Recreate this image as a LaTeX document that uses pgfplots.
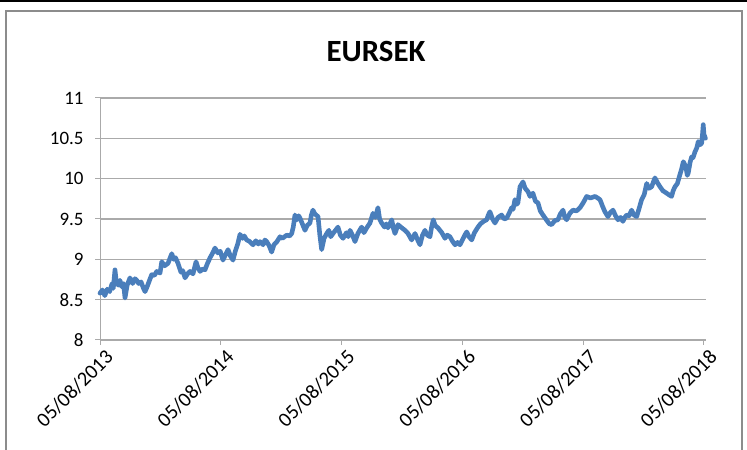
\documentclass[border=0pt]{standalone}
\usepackage{pgfplots}
\pgfplotsset{compat=1.18}
\usepackage{fontspec}
\setmainfont{Carlito}
\definecolor{lineblue}{RGB}{74,126,187}
\definecolor{gridgray}{RGB}{170,170,170}
\definecolor{framegray}{RGB}{140,140,140}
\begin{document}
\begin{tikzpicture}[x=1bp,y=1bp]
\path[use as bounding box] (0,0) rectangle (747,450);
\draw[black,line width=2bp] (0,449) -- (747,449);
\draw[framegray,line width=1.2bp] (6,-10) -- (6,439) -- (742,439) -- (742,-10);
\node[font=\fontsize{31}{36}\selectfont\bfseries] at (376,399) {EURSEK};
\begin{axis}[
  at={(100bp,110bp)}, anchor=south west,
  scale only axis, width=606bp, height=242bp,
  xmin=0, xmax=5.017, ymin=8, ymax=11,
  axis x line=bottom, axis y line=left,
  axis line style={gridgray,line width=1bp,-},
  ytick={8,8.5,...,11},
  yticklabels={8,8.5,9,9.5,10,10.5,11},
  xtick={0,1,2,3,4,5},
  xticklabels={05/08/2013,05/08/2014,05/08/2015,05/08/2016,05/08/2017,05/08/2018},
  tick align=outside, major tick length=5bp,
  tick style={gridgray,line width=1bp},
  ymajorgrids, grid style={gridgray,line width=1.2bp},
  tick label style={font=\fontsize{19}{21}\selectfont, black},
  yticklabel style={anchor=east, xshift=-8bp},
  xticklabel style={font=\fontsize{20.5}{22}\selectfont, rotate=45, anchor=east, xshift=4bp, yshift=-13bp},
  clip=false,
]
\addplot[lineblue, line width=4.6bp, line join=round, line cap=round] coordinates {
(0,8.58) (0.02,8.62) (0.04,8.55) (0.06,8.63) (0.08,8.60) (0.10,8.70) (0.11,8.64) (0.124,8.87) (0.135,8.72) (0.15,8.68) (0.165,8.74) (0.18,8.66) (0.195,8.70) (0.207,8.52)
(0.225,8.68) (0.248,8.77) (0.27,8.70) (0.29,8.76) (0.304,8.74) (0.32,8.70) (0.34,8.72) (0.36,8.64) (0.373,8.60) (0.39,8.66) (0.40,8.70) (0.415,8.76) (0.428,8.81)
(0.45,8.80) (0.47,8.85) (0.497,8.83) (0.511,8.97) (0.535,8.92) (0.563,8.95) (0.594,9.07) (0.61,9.00) (0.625,9.02) (0.646,8.95) (0.67,8.84) (0.685,8.86) (0.704,8.77)
(0.725,8.82) (0.745,8.85) (0.77,8.82) (0.795,8.97) (0.81,8.90) (0.828,8.85) (0.85,8.88) (0.869,8.87) (0.89,8.95) (0.911,9.02) (0.93,9.07) (0.952,9.14)
(0.975,9.08) (0.995,9.10) (1.018,8.99) (1.04,9.06) (1.060,9.12) (1.08,9.04) (1.101,8.99) (1.12,9.10) (1.142,9.20) (1.159,9.31) (1.18,9.26) (1.195,9.29) (1.214,9.24)
(1.24,9.22) (1.267,9.18) (1.29,9.23) (1.31,9.19) (1.325,9.22) (1.35,9.18) (1.365,9.24) (1.380,9.22) (1.40,9.17) (1.421,9.09) (1.44,9.18) (1.465,9.22) (1.490,9.28)
(1.51,9.26) (1.546,9.30) (1.57,9.29) (1.587,9.32) (1.60,9.40) (1.614,9.55) (1.63,9.49) (1.645,9.54) (1.656,9.51) (1.675,9.44) (1.697,9.36) (1.715,9.42) (1.738,9.45)
(1.75,9.55) (1.763,9.61) (1.78,9.56) (1.805,9.53) (1.82,9.30) (1.835,9.12) (1.855,9.26) (1.877,9.32) (1.895,9.36) (1.91,9.28) (1.929,9.32) (1.95,9.36) (1.970,9.40)
(1.99,9.30) (2.012,9.26) (2.04,9.33) (2.055,9.28) (2.070,9.36) (2.09,9.30) (2.111,9.22) (2.135,9.32) (2.15,9.36) (2.166,9.40) (2.185,9.33) (2.208,9.39) (2.235,9.45)
(2.260,9.57) (2.28,9.52) (2.301,9.64) (2.315,9.50) (2.332,9.45) (2.355,9.40) (2.37,9.44) (2.384,9.39) (2.40,9.44) (2.415,9.49) (2.43,9.38) (2.442,9.32) (2.467,9.43)
(2.49,9.40) (2.525,9.36) (2.55,9.32) (2.565,9.28) (2.580,9.24) (2.608,9.32) (2.63,9.24) (2.649,9.18) (2.67,9.30) (2.690,9.36) (2.71,9.30) (2.732,9.28) (2.745,9.40)
(2.759,9.49) (2.775,9.42) (2.798,9.39) (2.83,9.33) (2.856,9.26) (2.875,9.30) (2.897,9.28) (2.92,9.22) (2.939,9.18) (2.96,9.21) (2.980,9.18) (3.00,9.24) (3.02,9.30)
(3.036,9.34) (3.055,9.28) (3.077,9.24) (3.10,9.33) (3.129,9.40) (3.15,9.44) (3.175,9.47) (3.201,9.49) (3.215,9.55) (3.228,9.59) (3.25,9.50) (3.270,9.45) (3.295,9.52)
(3.325,9.55) (3.345,9.50) (3.366,9.51) (3.39,9.58) (3.408,9.64) (3.42,9.62) (3.435,9.74) (3.448,9.68) (3.460,9.70) (3.477,9.90) (3.502,9.96) (3.52,9.88) (3.543,9.84)
(3.56,9.78) (3.584,9.82) (3.605,9.72) (3.626,9.70) (3.645,9.60) (3.667,9.55) (3.70,9.48) (3.72,9.44) (3.739,9.43) (3.765,9.48) (3.791,9.49) (3.81,9.56) (3.833,9.61)
(3.848,9.52) (3.863,9.49) (3.89,9.57) (3.916,9.61) (3.945,9.60) (3.974,9.64) (4.00,9.70) (4.029,9.78) (4.06,9.76) (4.098,9.78) (4.12,9.76) (4.139,9.74) (4.16,9.66)
(4.180,9.59) (4.205,9.53) (4.225,9.58) (4.247,9.61) (4.268,9.54) (4.288,9.49) (4.31,9.52) (4.329,9.47) (4.345,9.52) (4.360,9.55) (4.38,9.54) (4.401,9.61) (4.42,9.55)
(4.443,9.53) (4.465,9.64) (4.484,9.74) (4.505,9.80) (4.526,9.94) (4.545,9.88) (4.567,9.90) (4.594,10.01) (4.615,9.95) (4.636,9.90) (4.66,9.85) (4.691,9.82) (4.71,9.80)
(4.732,9.78) (4.745,9.85) (4.760,9.90) (4.78,9.94) (4.801,10.05) (4.815,10.12) (4.829,10.21) (4.85,10.15) (4.862,10.04) (4.870,10.07) (4.885,10.20) (4.898,10.27)
(4.91,10.26) (4.925,10.33) (4.94,10.38) (4.953,10.46) (4.968,10.42) (4.981,10.44) (4.988,10.55) (4.994,10.67) (5.00,10.55) (5.012,10.50)
};
\end{axis}
\end{tikzpicture}
\end{document}
